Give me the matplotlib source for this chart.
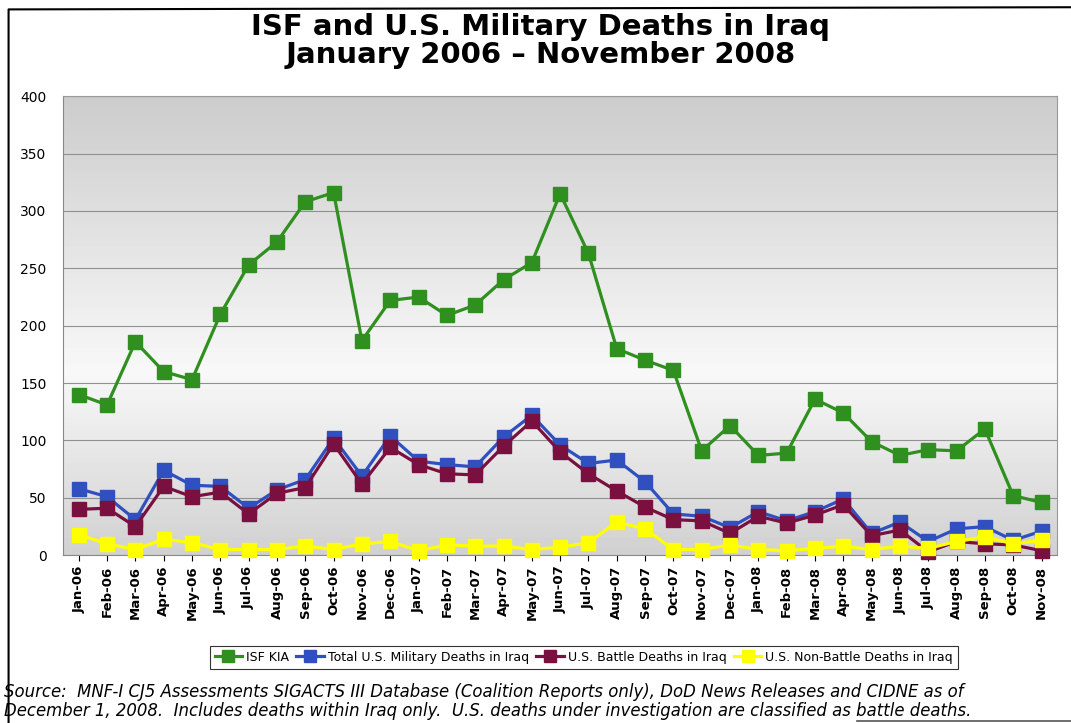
import numpy as np
import matplotlib
matplotlib.use('Agg')
import matplotlib.pyplot as plt
from matplotlib.lines import Line2D

months = ['Jan-06', 'Feb-06', 'Mar-06', 'Apr-06', 'May-06', 'Jun-06', 'Jul-06', 'Aug-06',
          'Sep-06', 'Oct-06', 'Nov-06', 'Dec-06', 'Jan-07', 'Feb-07', 'Mar-07', 'Apr-07',
          'May-07', 'Jun-07', 'Jul-07', 'Aug-07', 'Sep-07', 'Oct-07', 'Nov-07', 'Dec-07',
          'Jan-08', 'Feb-08', 'Mar-08', 'Apr-08', 'May-08', 'Jun-08', 'Jul-08', 'Aug-08',
          'Sep-08', 'Oct-08', 'Nov-08']

isf_kia = [140, 131, 186, 160, 153, 210, 253, 273, 308, 316, 187, 222, 225, 209, 218, 240,
           255, 315, 263, 180, 170, 161, 91, 113, 87, 89, 136, 124, 99, 87, 92, 91,
           110, 52, 46]
us_total = [58, 51, 31, 74, 61, 60, 41, 57, 66, 102, 69, 104, 82, 79, 77, 103,
            122, 96, 80, 83, 64, 36, 34, 24, 38, 30, 38, 49, 19, 29, 12, 23,
            25, 13, 21]
us_battle = [40, 41, 25, 60, 51, 55, 36, 54, 59, 97, 62, 94, 79, 71, 70, 95,
             117, 90, 71, 56, 42, 31, 30, 19, 34, 28, 35, 44, 17, 22, 3, 12,
             10, 9, 4]
us_nonbattle = [18, 10, 5, 14, 11, 5, 5, 5, 8, 5, 10, 12, 4, 9, 8, 8,
                5, 7, 11, 29, 23, 5, 5, 9, 5, 4, 6, 8, 5, 8, 6, 12,
                16, 10, 13]

fig = plt.figure(figsize=(10.71, 7.23), dpi=100)
ax = fig.add_axes([0.059, 0.232, 0.928, 0.635])

# gradient background: grey at top/bottom, light in the middle
grad = np.concatenate([np.linspace(0.80, 0.97, 60), np.linspace(0.97, 0.82, 40)])
ax.imshow(grad.reshape(-1, 1), aspect='auto', cmap='gray', vmin=0, vmax=1,
          extent=[0, 1, 0, 1], transform=ax.transAxes, zorder=0, origin='upper')

x = np.arange(len(months))
style = dict(marker='s', markersize=10, linewidth=2.3, clip_on=False)
ax.plot(x, isf_kia, color='#2f8f1f', label='ISF KIA', zorder=3, **style)
ax.plot(x, us_total, color='#3050c0', label='Total U.S. Military Deaths in Iraq', zorder=4, **style)
ax.plot(x, us_battle, color='#7a1040', label='U.S. Battle Deaths in Iraq', zorder=5, **style)
ax.plot(x, us_nonbattle, color='#ffff00', label='U.S. Non-Battle Deaths in Iraq', zorder=6, **style)

ax.set_xlim(-0.55, len(months) - 0.45)
ax.set_ylim(0, 400)
ax.set_yticks(range(0, 401, 50))
ax.yaxis.grid(True, color='#909090', linewidth=0.8)
ax.set_axisbelow(True)
ax.set_xticks(x)
ax.set_xticklabels(months, rotation=90, fontsize=9.5, fontweight='bold')
ax.tick_params(axis='y', labelsize=10, length=0, pad=12)
ax.tick_params(axis='x', length=4)
for s in ['top', 'right']:
    ax.spines[s].set_color('#999999')
ax.spines['left'].set_color('#888888')
ax.spines['bottom'].set_color('#888888')

fig.text(0.505, 0.9516, 'ISF and U.S. Military Deaths in Iraq', ha='center', va='baseline',
         fontsize=21, fontweight='bold')
fig.text(0.505, 0.9129, 'January 2006 \u2013 November 2008', ha='center', va='baseline',
         fontsize=21, fontweight='bold')

leg = fig.legend(loc='center', bbox_to_anchor=(0.545, 0.091), ncol=4, fontsize=9,
                 frameon=True, fancybox=False, edgecolor='black', handlelength=2.2,
                 columnspacing=0.6, handletextpad=0.3, borderpad=0.4, markerscale=0.8)
leg.get_frame().set_linewidth(0.8)

fig.text(0.004, 0.03, 'Source:  MNF-I CJ5 Assessments SIGACTS III Database (Coalition Reports only), DoD News Releases and CIDNE as of\n'
         'December 1, 2008.  Includes deaths within Iraq only.  U.S. deaths under investigation are classified as battle deaths.',
         ha='left', va='center', fontsize=11.9, style='italic', linespacing=1.05)

# frame around the chart (left and top edges, bottom stub at lower right)
fig.lines.append(Line2D([0.008, 0.008, 1.0], [0.0, 0.987, 0.99], transform=fig.transFigure,
                        color='black', linewidth=1.5))
fig.lines.append(Line2D([0.8, 1.0], [0.003, 0.003], transform=fig.transFigure,
                        color='#555555', linewidth=1.2))

fig.savefig('out.png', dpi=100)
